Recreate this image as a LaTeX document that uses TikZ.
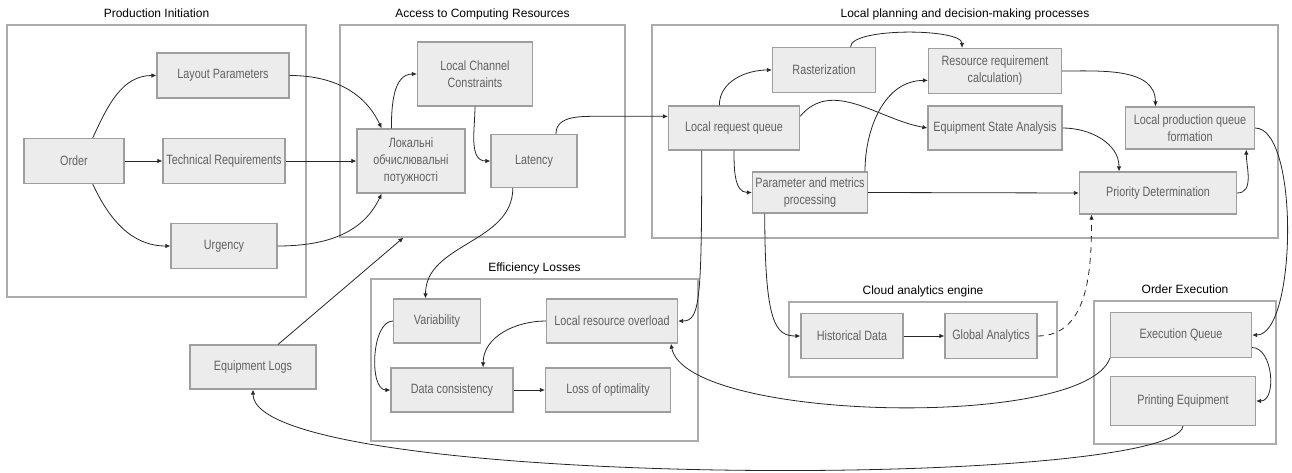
\documentclass[tikz,border=0pt]{standalone}
\usepackage{fontspec}
\setmainfont{Liberation Sans}
\newfontfamily\boxfont{Liberation Sans}[FakeStretch=0.8]
\usetikzlibrary{arrows.meta,calc}
\tikzset{
	proc/.style={draw=black!38, line width=1.2pt, fill=gray!15, align=center, inner sep=1pt, text=black!62, font=\boxfont\fontsize{13.5}{17}\selectfont},
	wh/.style 2 args={minimum width=#1pt, minimum height=#2pt},
	group/.style={draw=black!33, line width=1.2pt, inner sep=0pt},
	grouptitle/.style={anchor=base, yshift=7pt, inner sep=0pt, font=\fontsize{12}{14}\selectfont},
	flow/.style={-{Latex[length=5pt,width=4.5pt]}, draw=black!85, line width=0.8pt},
	hint/.style={flow, dash pattern=on 6pt off 5pt}
}
\begin{document}
\begin{tikzpicture}[x=1pt, y=-1pt]
	\useasboundingbox (0,0) rectangle (1292,473);
	\node[group, wh={299}{272}] (init) at (156.5,161) {};
	\node[group, wh={285}{212}] (access) at (482.5,131) {};
	\node[group, wh={626}{213}] (planning) at (965,131.5) {};
	\node[group, wh={327}{162}] (effloss) at (534.5,360) {};
	\node[group, wh={268}{75}] (cloud) at (923,339.5) {};
	\node[group, wh={182}{143}] (execbox) at (1185,372.5) {};
	\node[grouptitle] at (init.north) {Production Initiation};
	\node[grouptitle] at (access.north) {Access to Computing Resources};
	\node[grouptitle] at (planning.north) {Local planning and decision-making processes};
	\node[grouptitle] at (effloss.north) {Efficiency Losses};
	\node[grouptitle] at (cloud.north) {Cloud analytics engine};
	\node[grouptitle] at (execbox.north) {Order Execution};
	\coordinate (accessin) at ($(access.south west)+(64,0)$);

	\node[proc, wh={100}{45}] (order) at (74,161) {Order};
	\node[proc, wh={132}{45}] (layout) at (223,75.5) {Layout Parameters};
	\node[proc, wh={122}{45}] (tech) at (224,161) {Technical Requirements};
	\node[proc, wh={106}{45}] (urgency) at (224,246) {Urgency};
	\node[proc, wh={108}{64}] (lokal) at (411,161) {Локальні\\обчислювальні\\потужності};
	\node[proc, wh={115}{64}] (lcc) at (475,74) {Local Channel\\Constraints};
	\node[proc, wh={86}{53}] (latency) at (534,161) {Latency};
	\node[proc, wh={131}{44}] (lrq) at (734,128) {Local request queue};
	\node[proc, wh={103}{45}] (raster) at (824,70) {Rasterization};
	\node[proc, wh={133}{45}] (resreq) at (995,71) {Resource requirement\\calculation)};
	\node[proc, wh={134}{44}] (esa) at (995,128) {Equipment State Analysis};
	\node[proc, wh={129}{42}] (lpq) at (1190,128) {Local production queue\\formation};
	\node[proc, wh={115}{41}] (param) at (810,192.5) {Parameter and metrics\\processing};
	\node[proc, wh={157}{42}] (prio) at (1158,193) {Priority Determination};
	\node[proc, wh={87}{44}] (variab) at (437,321) {Variability};
	\node[proc, wh={131}{44}] (overload) at (612,321) {Local resource overload};
	\node[proc, wh={122}{44}] (consist) at (452,390) {Data consistency};
	\node[proc, wh={125}{44}] (lossopt) at (608,390) {Loss of optimality};
	\node[proc, wh={126}{44}] (eqlogs) at (253,367) {Equipment Logs};
	\node[proc, wh={102}{45}] (hist) at (852,336) {Historical Data};
	\node[proc, wh={92}{45}] (globalan) at (991,336) {Global Analytics};
	\node[proc, wh={141}{45}] (execq) at (1181,335) {Execution Queue};
	\node[proc, wh={145}{49}] (printeq) at (1183,401) {Printing Equipment};

	\draw[flow] (order.51) to[out=65, in=180] (layout.west);
	\draw[flow] (order.east) -- (tech.west);
	\draw[flow] (order.-51) to[out=-65, in=180] (urgency.west);
	\draw[flow] (layout.east) to[out=0, in=115] (lokal.132);
	\draw[flow] (tech.east) -- (lokal.west);
	\draw[flow] (urgency.east) to[out=0, in=-115] (lokal.228);
	\draw[flow] (lokal.121) to[out=90, in=180] (lcc.west);
	\draw[flow] (lcc.south) to[out=-90, in=180] (latency.west);
	\draw[flow] (latency.51) to[out=90, in=180] ($(latency.51 |- lrq.170)+(45,0)$) -- (lrq.170);
	\draw[flow] (latency.232) to[out=-90, in=90] (variab.117);
	\draw[flow] (eqlogs.42) -- (accessin);
	\draw[flow] (lrq.123) to[out=90, in=180] (raster.west);
	\draw[flow] (raster.41) to[out=90, in=90, looseness=0.45] (resreq.145);
	\draw[flow] (lrq.10) to[out=50, in=170] (esa.west);
	\draw[flow] (lrq.south) to[out=-90, in=180] (param.west);
	\draw[flow] (param.21) to[out=90, in=180] (resreq.188);
	\draw[flow] (param.east) -- (prio.west);
	\draw[flow] (esa.east) to[out=0, in=90] (prio.151);
	\draw[flow] (resreq.east) to[out=0, in=90] (lpq.148);
	\draw[flow] (prio.east) to[out=0, in=-90] (lpq.-21);
	\draw[flow] (lpq.east) to[out=0, in=0, looseness=0.55] (execq.east);
	\draw[flow] (lrq.215) .. controls +(0,150) and +(22,0) .. (overload.east);
	\draw[flow] (param.205) .. controls +(0,110) and +(-25,0) .. (hist.west);
	\draw[flow] (hist.east) -- (globalan.west);
	\draw[hint] (globalan.east) to[out=0, in=-90] (prio.198);
	\draw[flow] (execq.south west) .. controls +(-25,72) and +(15,78) .. (overload.-21);
	\draw[flow] (execq.-10) to[out=0, in=0] (printeq.east);
	\draw[flow] (printeq.south) .. controls +(-10,64) and +(0,100) .. (eqlogs.south);
	\draw[flow] (overload.west) to[out=180, in=90] (consist.36);
	\draw[flow] (variab.west) to[out=180, in=180, looseness=0.8] (consist.west);
	\draw[flow] (consist.east) -- (lossopt.west);
\end{tikzpicture}
\end{document}
